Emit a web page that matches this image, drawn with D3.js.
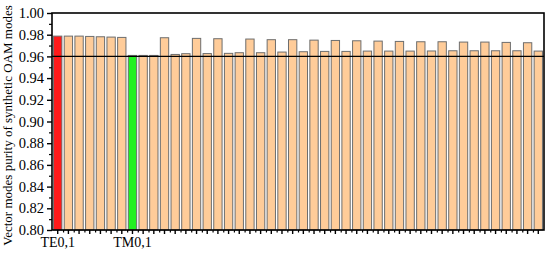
<!DOCTYPE html>
<html>
<head>
<meta charset="utf-8">
<script src="https://cdn.jsdelivr.net/npm/d3@7"></script>
<style>
  body { margin: 0; background: #fff; }
  svg text { font-family: "Liberation Serif", "Times New Roman", serif; }
</style>
</head>
<body>
<div id="chart"></div>
<script>
// mode index along x, only two of them get a label
var modes = d3.range(46);
var modeLabels = {0: 'TE0,1', 7: 'TM0,1'};

// purity values
var purity = [
  0.9787, 0.9787, 0.9787, 0.9784, 0.9781, 0.9778, 0.9775, 0.9609,
  0.9609, 0.9609, 0.9772, 0.9618, 0.9625, 0.9766, 0.9626, 0.9763,
  0.9628, 0.9634, 0.9760, 0.9634, 0.9754, 0.9640, 0.9754, 0.9643,
  0.9750, 0.9646, 0.9747, 0.9646, 0.9744, 0.9649, 0.9741, 0.9649,
  0.9738, 0.9649, 0.9735, 0.9650, 0.9735, 0.9652, 0.9732, 0.9652,
  0.9732, 0.9652, 0.9729, 0.9652, 0.9726, 0.9649
];
var refLine = 0.96;
var yTicks = [0.80, 0.82, 0.84, 0.86, 0.88, 0.90, 0.92, 0.94, 0.96, 0.98, 1.00];

var width = 550, height = 256;
var plotLeft = 52, plotRight = 544, plotTop = 13, plotBottom = 230;

var svg = d3.select('#chart').append('svg')
  .attr('width', width)
  .attr('height', height);

var x = d3.scaleBand()
  .domain(modes)
  .range([plotLeft, plotRight])
  .paddingInner(0.22)
  .paddingOuter(0.145);

// same positions as a continuous scale, for the minor ticks between bars
var xLin = d3.scaleLinear()
  .domain([0, modes.length - 1])
  .range([x(0) + x.bandwidth() / 2, x(modes.length - 1) + x.bandwidth() / 2]);

var y = d3.scaleLinear().domain([0.80, 1.00]).range([plotBottom, plotTop]);

function barColor(i) {
  if (i === 0) return '#ff1a1a';
  if (i === 7) return '#22f022';
  return '#ffcc99';
}

svg.selectAll('.bar')
  .data(purity)
  .enter()
  .append('rect')
  .attr('class', 'bar')
  .attr('x', (d, i) => x(modes[i]))
  .attr('y', d => y(d))
  .attr('width', x.bandwidth())
  .attr('height', d => y(0.80) - y(d))
  .style('fill', (d, i) => barColor(i))
  .style('stroke', '#6e6e6e')
  .style('stroke-width', 1);

// reference line
svg.append('line')
  .attr('x1', plotLeft).attr('x2', plotRight)
  .attr('y1', y(refLine)).attr('y2', y(refLine))
  .style('stroke', '#000')
  .style('stroke-width', 1.2);

// frame
svg.append('rect')
  .attr('x', plotLeft).attr('y', plotTop)
  .attr('width', plotRight - plotLeft).attr('height', plotBottom - plotTop)
  .style('fill', 'none')
  .style('stroke', '#000')
  .style('stroke-width', 1.6);

// y axis
var yAxis = d3.axisLeft(y).tickValues(yTicks).tickFormat(d3.format('.2f')).tickSize(5).tickPadding(3);
var gy = svg.append('g').attr('transform', 'translate(' + plotLeft + ',0)').call(yAxis);
gy.select('.domain').remove();
gy.selectAll('line').style('stroke', '#000').style('stroke-width', 1.4);
gy.selectAll('text').style('font-size', '14.5px').style('fill', '#000');

var yMinor = d3.axisLeft(y).tickValues(yTicks.slice(0, -1).map(d => d + 0.01)).tickFormat('').tickSize(3);
var gym = svg.append('g').attr('transform', 'translate(' + plotLeft + ',0)').call(yMinor);
gym.select('.domain').remove();
gym.selectAll('line').style('stroke', '#000').style('stroke-width', 1.2);

// x axis
var xAxis = d3.axisBottom(x).tickFormat(d => modeLabels[d] || '').tickSize(4).tickPadding(3);
var gx = svg.append('g').attr('transform', 'translate(0,' + plotBottom + ')').call(xAxis);
gx.select('.domain').remove();
gx.selectAll('line').style('stroke', '#000').style('stroke-width', 1.4);
gx.selectAll('text').style('font-size', '14px').style('fill', '#000');

var xMinor = d3.axisBottom(xLin).tickValues(d3.range(0.5, modes.length - 1, 1)).tickFormat('').tickSize(2.5);
var gxm = svg.append('g').attr('transform', 'translate(0,' + plotBottom + ')').call(xMinor);
gxm.select('.domain').remove();
gxm.selectAll('line').style('stroke', '#000').style('stroke-width', 1.2);

// y title
svg.append('text')
  .attr('transform', 'translate(12,' + ((plotTop + plotBottom) / 2 + 4) + ') rotate(-90)')
  .style('text-anchor', 'middle')
  .style('font-size', '13px')
  .text('Vector modes purity of synthetic OAM modes');
</script>
</body>
</html>
